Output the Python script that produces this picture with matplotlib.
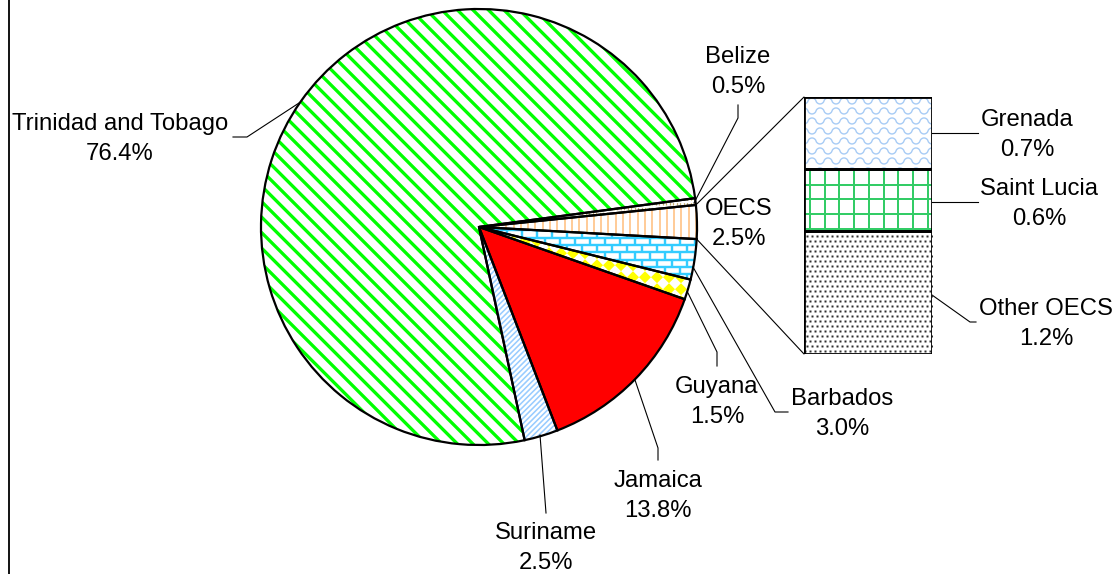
import numpy as np
import matplotlib
matplotlib.use('Agg')
import matplotlib.pyplot as plt
from matplotlib.collections import LineCollection, PolyCollection
from matplotlib.transforms import IdentityTransform
from matplotlib.patches import Wedge, ConnectionPatch

plt.rcParams['font.family'] = ['Liberation Sans', 'DejaVu Sans']

# ---------------- data ----------------
pie_labels = ['Belize', 'OECS', 'Barbados', 'Guyana', 'Jamaica', 'Suriname', 'Trinidad and Tobago']
pie_values = [0.5, 2.5, 3.0, 1.5, 13.8, 2.5, 76.4]
bar_labels = ['Grenada', 'Saint Lucia', 'Other OECS']
bar_values = [0.7, 0.6, 1.2]

W, H = 1117, 574
FS = 17.2
PX = 0.72  # points per pixel at dpi 100

fig = plt.figure(figsize=(W / 100, H / 100), dpi=100)
ax = fig.add_axes([0, 0, 1, 1])

pie_face = ['white', 'white', 'white', 'white', '#FF0000', 'white', 'white']
wedges, _ = ax.pie(pie_values, startangle=7.6, counterclock=False,
                   center=(479, H - 227), radius=218, colors=pie_face,
                   wedgeprops=dict(linewidth=0))
ax.set_xlim(0, W)
ax.set_ylim(0, H)
ax.set_aspect('auto')
ax.set_autoscale_on(False)
ax.axis('off')

# bar of pie axes
ax2 = fig.add_axes([804 / W, (H - 354) / H, 128 / W, 257 / H])
bv = bar_values[::-1]
bl = bar_labels[::-1]
bottoms = np.concatenate([[0], np.cumsum(bv)[:-1]])
bars = ax2.bar(0, bv, bottom=bottoms, width=1.0, color='white', edgecolor='none', zorder=1)
ax2.bar(0, bv, bottom=bottoms, width=1.0, fill=False, edgecolor='black', linewidth=2.0, zorder=3)
ax2.set_xlim(-0.5, 0.5)
ax2.set_ylim(0, sum(bv))
ax2.axis('off')


# ---------------- texture helpers (display pixel space) ----------------
def bbox(patch):
    e = patch.get_window_extent()
    return e.x0 - 2, e.y0 - 2, e.x1 + 2, e.y1 + 2


def add_lines(axx, patch, segs, color, lw_px, **kw):
    lc = LineCollection(segs, colors=color, linewidths=lw_px * PX,
                        transform=IdentityTransform(), zorder=2, **kw)
    axx.add_collection(lc, autolim=False)
    lc.set_clip_path(patch)


def add_polys(axx, patch, polys, color):
    pc = PolyCollection(polys, facecolors=color, edgecolors='none',
                        transform=IdentityTransform(), zorder=2)
    axx.add_collection(pc, autolim=False)
    pc.set_clip_path(patch)


def diag(axx, patch, spacing, sign, color, lw_px):
    x0, y0, x1, y1 = bbox(patch)
    segs = []
    if sign < 0:  # '\'
        for c in np.arange(x0 + y0 - spacing, x1 + y1 + spacing, spacing):
            segs.append([(c - y0, y0), (c - y1, y1)])
    else:  # '/'
        for c in np.arange(y0 - x1 - spacing, y1 - x0 + spacing, spacing):
            segs.append([(y0 - c, y0), (y1 - c, y1)])
    add_lines(axx, patch, segs, color, lw_px)


def vlines(axx, patch, spacing, color, lw_px, **kw):
    x0, y0, x1, y1 = bbox(patch)
    segs = [[(x, y0), (x, y1)] for x in np.arange(x0, x1 + spacing, spacing)]
    add_lines(axx, patch, segs, color, lw_px, **kw)


def grid(axx, patch, spacing, color, lw_px, xoff=0, yoff=0):
    x0, y0, x1, y1 = bbox(patch)
    segs = [[(x, y0), (x, y1)] for x in np.arange(x0 + xoff, x1 + spacing, spacing)]
    segs += [[(x0, y), (x1, y)] for y in np.arange(y0 + yoff, y1 + spacing, spacing)]
    add_lines(axx, patch, segs, color, lw_px)


def brick(axx, patch, rs, bw, color, lw_px):
    x0, y0, x1, y1 = bbox(patch)
    segs = []
    ys = np.arange(y0, y1 + rs, rs)
    for k, y in enumerate(ys):
        segs.append([(x0, y), (x1, y)])
        off = 0.5 * bw * (k % 2)
        for x in np.arange(x0 + off, x1 + bw, bw):
            segs.append([(x, y), (x, y + rs)])
    add_lines(axx, patch, segs, color, lw_px)


def diamonds(axx, patch, h, color):
    x0, y0, x1, y1 = bbox(patch)
    polys = []
    for cx in np.arange(x0, x1 + 2 * h, 2 * h):
        for cy in np.arange(y0, y1 + 2 * h, 2 * h):
            polys.append([(cx - h, cy), (cx, cy + h), (cx + h, cy), (cx, cy - h)])
    add_polys(axx, patch, polys, color)


def waves(axx, patch, rs, lam, amp, color, lw_px):
    x0, y0, x1, y1 = bbox(patch)
    xs = np.arange(x0, x1 + 1, 0.5)
    segs = []
    for k, y in enumerate(np.arange(y0, y1 + rs, rs)):
        ph = np.pi * (k % 2)
        s = np.sin(2 * np.pi * xs / lam + ph)
        yy = y + amp * np.sign(s) * np.abs(s) ** 0.6
        segs.append(np.column_stack([xs, yy]))
    add_lines(axx, patch, segs, color, lw_px)


def dots(axx, patch, sp, color, size):
    x0, y0, x1, y1 = bbox(patch)
    px, py = [], []
    for k, y in enumerate(np.arange(y0, y1 + sp, sp)):
        off = 0.5 * sp * (k % 2)
        for x in np.arange(x0 + off, x1 + sp, sp):
            px.append(x)
            py.append(y)
    ln, = axx.plot(px, py, 's', ms=size, color=color, mec='none',
                   transform=IdentityTransform(), zorder=2)
    ln.set_clip_path(patch)


# ---------------- pie textures ----------------
wd = dict(zip(pie_labels, wedges))
diag(ax, wd['Trinidad and Tobago'], 15.5, -1, '#00FF00', 3.3)
vlines(ax, wd['Belize'], 3.5, '#C8B070', 1.2, linestyles=(0, (2, 2)))
vlines(ax, wd['OECS'], 7.3, '#FFCC99', 2.0)
brick(ax, wd['Barbados'], 7.3, 15.0, '#33CCFF', 2.4)
diamonds(ax, wd['Guyana'], 6.0, '#FFFF00')
diag(ax, wd['Suriname'], 5.5, 1, '#99CCFF', 1.6)

for w in wedges:
    ax.add_patch(Wedge(w.center, w.r, w.theta1, w.theta2, fill=False,
                       edgecolor='black', linewidth=1.6, zorder=3))

# ---------------- bar textures ----------------
bd = dict(zip(bl, bars))
waves(ax2, bd['Grenada'], 10.0, 16.0, 3.0, '#A8CCF5', 1.4)
grid(ax2, bd['Saint Lucia'], 14.7, '#33CC66', 2.0, xoff=8, yoff=4)
dots(ax2, bd['Other OECS'], 5.0, '#303030', 1.8)

# ---------------- connectors pie -> bar ----------------
oecs = wd['OECS']
cx, cy = oecs.center
for ang, yb in [(oecs.theta2, sum(bv)), (oecs.theta1, 0)]:
    pA = (cx + oecs.r * np.cos(np.radians(ang)), cy + oecs.r * np.sin(np.radians(ang)))
    cp = ConnectionPatch(xyA=pA, coordsA=ax.transData, xyB=(-0.5, yb), coordsB=ax2.transData,
                         color='black', linewidth=0.8, zorder=4)
    fig.add_artist(cp)

# ---------------- leader lines (pixel coords, y from top) ----------------
leaders = [
    [(299, 103), (247, 137), (233, 137)],
    [(694, 203), (738, 118), (738, 105)],
    [(693, 267), (775, 412), (788, 412)],
    [(688, 293), (717, 352), (717, 366)],
    [(635, 380), (658, 448), (658, 460)],
    [(540, 435), (546, 513)],
    [(932, 133), (978, 133)],
    [(932, 202), (978, 202)],
    [(932, 295), (970, 322), (976, 322)],
]
for pts in leaders:
    xs = [p[0] for p in pts]
    ys = [H - p[1] for p in pts]
    ax.plot(xs, ys, color='black', linewidth=0.8, zorder=4)

# left border line
ax.plot([9, 9], [0, H], color='black', linewidth=1.3, zorder=4)

# ---------------- labels (x centre, baseline of the percentage line) ----------------
label_pos = {
    'Trinidad and Tobago': (120, 160),
    'Belize': (738, 93),
    'OECS': (739, 245),
    'Barbados': (842, 435),
    'Guyana': (717, 423),
    'Jamaica': (658, 517),
    'Suriname': (546, 569),
    'Grenada': (1027.5, 156),
    'Saint Lucia': (1039.5, 225),
    'Other OECS': (1046, 345),
}
all_vals = dict(zip(pie_labels, pie_values))
all_vals.update(dict(zip(bar_labels, bar_values)))
for name, (x, y) in label_pos.items():
    ax.text(x, H - y, f"{name}\n{all_vals[name]:.1f}%", ha='center', va='baseline',
            multialignment='center', fontsize=FS, linespacing=1.45, color='black', zorder=5)

fig.savefig('out.png', dpi=100)
